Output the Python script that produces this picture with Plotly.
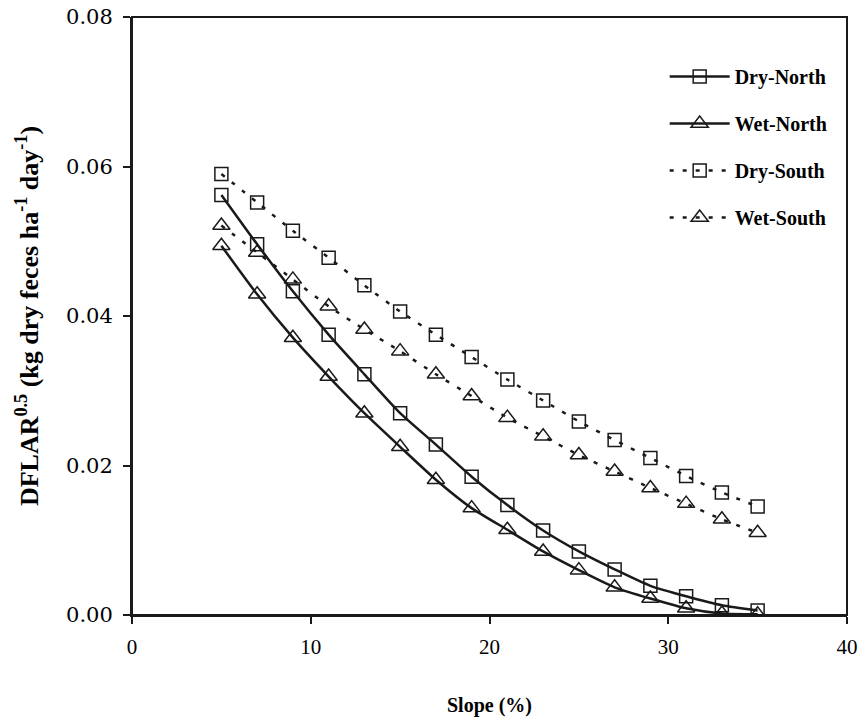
import plotly.graph_objects as go

slope = [5, 7, 9, 11, 13, 15, 17, 19, 21, 23, 25, 27, 29, 31, 33, 35]

dry_north = [0.0562, 0.0496, 0.0433, 0.0375, 0.0322, 0.0270, 0.0228, 0.0185,
             0.0147, 0.0113, 0.0085, 0.0061, 0.0039, 0.0025, 0.0013, 0.0006]
wet_north = [0.0494, 0.0429, 0.0371, 0.0319, 0.0270, 0.0225, 0.0181, 0.0143,
             0.0114, 0.0085, 0.0060, 0.0037, 0.0022, 0.0009, 0.0002, 0.0001]
dry_south = [0.0590, 0.0552, 0.0514, 0.0478, 0.0441, 0.0406, 0.0375, 0.0345,
             0.0315, 0.0287, 0.0259, 0.0234, 0.0210, 0.0186, 0.0164, 0.0145]
wet_south = [0.0521, 0.0485, 0.0449, 0.0413, 0.0382, 0.0353, 0.0322, 0.0293,
             0.0264, 0.0239, 0.0214, 0.0192, 0.0170, 0.0149, 0.0128, 0.0110]

series_names = ["Dry-North", "Wet-North", "Dry-South", "Wet-South"]
x_ticks = [0, 10, 20, 30, 40]
y_ticks = [0.00, 0.02, 0.04, 0.06, 0.08]

INK = "#1a1a1a"

fig = go.Figure()

specs = [
    (series_names[0], dry_north, "square-open", 13, "solid"),
    (series_names[1], wet_north, "triangle-up-open", 15, "solid"),
    (series_names[2], dry_south, "square-open", 13, "4px,9px"),
    (series_names[3], wet_south, "triangle-up-open", 15, "4px,9px"),
]

for name, vals, sym, msize, dash in specs:
    fig.add_trace(go.Scatter(
        x=slope, y=vals, name=name, legendgroup=name,
        mode="lines+markers",
        line=dict(color=INK, width=2.5, dash=dash, shape="spline", smoothing=0.6),
        marker=dict(symbol=sym, size=msize, color=INK, line=dict(color=INK, width=1.5)),
    ))

fig.update_layout(
    width=858, height=719,
    margin=dict(l=132, r=11, t=17, b=104),
    paper_bgcolor="white", plot_bgcolor="white",
    font=dict(family="Liberation Serif", color="black"),
    showlegend=True,
    legend=dict(
        x=0.745, y=0.933, xanchor="left", yanchor="top",
        bgcolor="rgba(0,0,0,0)", borderwidth=0,
        font=dict(family="Liberation Serif", size=20, weight="bold", color="black"),
        itemwidth=60, tracegroupgap=18, traceorder="grouped",
    ),
    shapes=[dict(type="rect", xref="paper", yref="paper", x0=0, x1=1, y0=0, y1=1,
                 line=dict(color=INK, width=2), fillcolor="rgba(0,0,0,0)", layer="above")],
)

fig.update_xaxes(
    range=[0, 40], tickvals=x_ticks, ticktext=[str(v) for v in x_ticks],
    showgrid=False, zeroline=False, automargin=False,
    showline=True, linecolor=INK, linewidth=2, mirror=False,
    ticks="outside", ticklen=7, tickwidth=1.5, tickcolor=INK,
    ticklabelstandoff=5, ticklabeloverflow="allow",
    tickfont=dict(family="Liberation Serif", size=21, color="black"),
    title=dict(text="Slope (%)", standoff=40,
               font=dict(family="Liberation Serif", size=20, weight="bold", color="black")),
)

fig.update_yaxes(
    range=[0, 0.08], tickvals=y_ticks, ticktext=[f"{v:.2f}" for v in y_ticks],
    showgrid=False, zeroline=False, automargin=False,
    showline=True, linecolor=INK, linewidth=2, mirror=False,
    ticks="outside", ticklen=7, tickwidth=1.5, tickcolor=INK,
    ticklabelstandoff=6, ticklabeloverflow="allow",
    tickfont=dict(family="DejaVu Serif", size=21, color="black"),
    title=dict(text="DFLAR<sup>0.5</sup> (kg dry feces ha<sup>-1</sup> day<sup>-1</sup>)",
               standoff=20,
               font=dict(family="Liberation Serif", size=26, weight="bold", color="black")),
)

fig.write_html(
    "out.html",
    config={"displayModeBar": False},
    post_script="document.body.style.margin='0';document.body.style.overflow='hidden';",
)
